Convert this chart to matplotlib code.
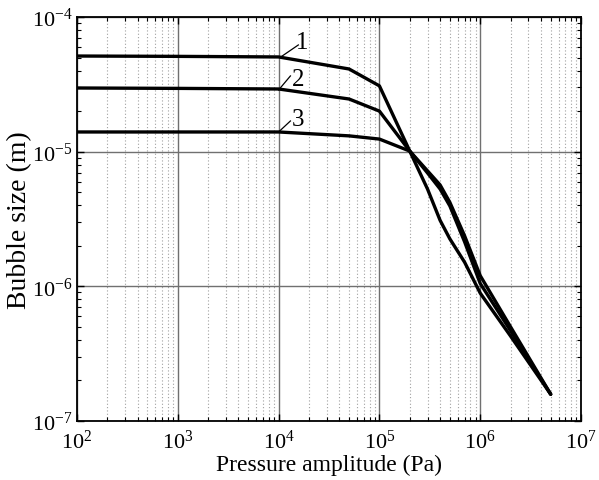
import numpy as np
import matplotlib
matplotlib.use("Agg")
import matplotlib.pyplot as plt
from matplotlib.ticker import LogLocator, NullFormatter

plt.rcParams['font.family'] = ['Liberation Serif', 'DejaVu Serif']
plt.rcParams['mathtext.fontset'] = 'custom'
plt.rcParams['mathtext.rm'] = 'Liberation Serif'
plt.rcParams['mathtext.it'] = 'Liberation Serif:italic'

# pressure amplitude (Pa)
pressure = [1e2, 1e3, 1e4, 5e4, 1e5, 2e5, 3e5, 4e5, 5e5, 7e5, 1e6, 2e6, 5e6]
# bubble size (m) for the three cases
size1 = [5.13e-5, 5.1e-5, 5.05e-5, 4.11e-5, 3.08e-5, 1.01e-5, 5.28e-6, 3.09e-6,
         2.25e-6, 1.51e-6, 8.9e-7, 4.27e-7, 1.58e-7]
size2 = [2.97e-5, 2.95e-5, 2.92e-5, 2.46e-5, 2.0e-5, 1.01e-5, 6.95e-6, 5.28e-6,
         3.95e-6, 2.14e-6, 1.05e-6, 4.68e-7, 1.58e-7]
size3 = [1.40e-5, 1.40e-5, 1.40e-5, 1.31e-5, 1.24e-5, 1.01e-5, 7.2e-6, 5.66e-6,
         4.2e-6, 2.37e-6, 1.20e-6, 5.0e-7, 1.58e-7]
curves = [size1, size2, size3]
labels = ['1', '2', '3']
# leader line: start on curve, end near the label; label baseline position
leader_start = [(1.04e4, 5.02e-5), (1.0e4, 2.87e-5), (1.0e4, 1.40e-5)]
leader_end = [(1.57e4, 6.2e-5), (1.31e4, 3.65e-5), (1.31e4, 1.69e-5)]
label_pos = [(1.5e4, 5.9e-5), (1.36e4, 3.15e-5), (1.36e4, 1.58e-5)]

fig = plt.figure(figsize=(5.99, 4.81), dpi=100)
ax = fig.add_axes([0.1285, 0.1227, 0.97 - 0.1285, 0.9626 - 0.1227])

for s in curves:
    ax.plot(pressure, s, color='black', lw=2.4, solid_capstyle='round',
            solid_joinstyle='round', zorder=3)

for lab, p0, p1, pt in zip(labels, leader_start, leader_end, label_pos):
    ax.plot([p0[0], p1[0]], [p0[1], p1[1]], color='black', lw=0.9, zorder=3)
    ax.text(pt[0], pt[1], lab, fontsize=18, ha='left', va='baseline')

ax.set_xscale('log')
ax.set_yscale('log')
ax.set_xlim(1e2, 1e7)
ax.set_ylim(1e-7, 1e-4)

ax.xaxis.set_major_locator(LogLocator(base=10, numticks=10))
ax.xaxis.set_minor_locator(LogLocator(base=10, subs=np.arange(2, 10), numticks=20))
ax.yaxis.set_minor_locator(LogLocator(base=10, subs=np.arange(2, 10), numticks=20))
ax.xaxis.set_minor_formatter(NullFormatter())
ax.yaxis.set_minor_formatter(NullFormatter())

ax.grid(which='major', color='#707070', lw=1.0, ls='-')
ax.grid(which='minor', axis='x', color='#a0a0a0', lw=0.8, ls=(0, (1, 2)))

ax.tick_params(which='both', direction='in', top=True, right=True,
               labelsize=16, color='black')
ax.tick_params(which='major', length=5, width=1)
ax.tick_params(which='minor', length=3, width=0.8)
ax.tick_params(axis='x', pad=6)
ax.tick_params(axis='y', pad=3)
for sp in ax.spines.values():
    sp.set_linewidth(1.3)

ax.set_xlabel('Pressure amplitude (Pa)', fontsize=17, labelpad=1)
ax.set_ylabel('Bubble size (m)', fontsize=20, labelpad=0)

fig.savefig('out.png', dpi=100)
